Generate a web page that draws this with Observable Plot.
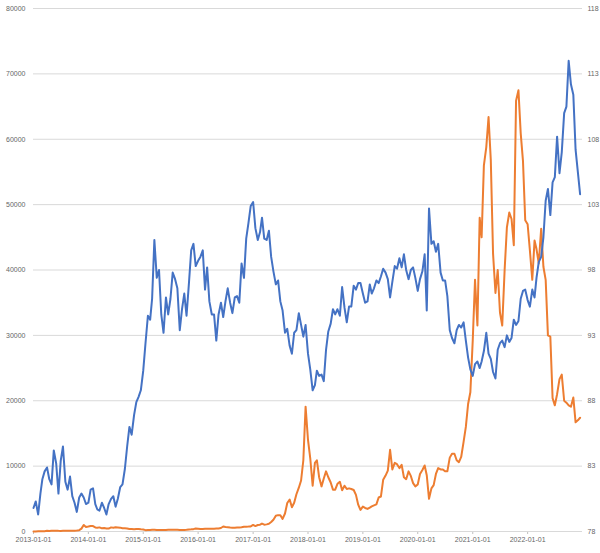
<!DOCTYPE html>
<html>
<head>
<meta charset="utf-8">
<script src="https://cdn.jsdelivr.net/npm/d3@7"></script>
<script src="https://cdn.jsdelivr.net/npm/@observablehq/plot@0.6"></script>
<style>
  html, body { margin: 0; padding: 0; background: #fff; }
  #chart svg { display: block; }
</style>
</head>
<body>
<div id="chart"></div>
<script>
// Sample dates: 1st and 16th of each month, Jan 2013 – Dec 2022
const startYear = 2013;
const yearsCount = 10;

// Left-axis series (orange), semi-monthly values
const btc = [
  // 2013
  13, 14, 20, 27, 34, 47, 104, 83, 116, 115, 129, 100, 88, 98, 105, 99, 127, 127, 126, 150, 206, 440, 1000, 700,
  // 2014
  770, 850, 830, 620, 560, 630, 480, 520, 450, 450, 630, 590, 640, 620, 590, 500, 480, 460, 380, 390, 330, 390, 380, 330,
  // 2015
  315, 210, 225, 235, 255, 285, 245, 225, 235, 237, 225, 250, 260, 280, 280, 260, 230, 230, 237, 262, 320, 330, 360, 455,
  // 2016
  430, 385, 375, 405, 430, 415, 415, 430, 450, 455, 535, 760, 675, 665, 610, 575, 575, 610, 615, 640, 730, 745, 750, 780,
  // 2017
  1000, 830, 990, 1040, 1220, 1050, 1090, 1180, 1450, 1800, 2400, 2500, 2500, 1930, 2750, 4350, 4900, 3700, 4400, 5700, 6700, 7800, 10900, 19100,
  // 2018
  14000, 11200, 7000, 10500, 10900, 8300, 6900, 8100, 9200, 8300, 7500, 6400, 6400, 7300, 7600, 6300, 7000, 6500, 6600, 6500, 6350, 5600, 4100, 3300,
  // 2019
  3800, 3600, 3450, 3650, 3850, 4000, 4150, 5200, 5350, 7900, 8550, 9300, 12500, 9500, 10500, 10300, 9700, 10200, 8300, 8000, 9200, 8500, 7400, 6900,
  // 2020
  7200, 8800, 9400, 10100, 8600, 5000, 6600, 7100, 8800, 9700, 9500, 9500, 9200, 9200, 11300, 11900, 11900, 10900, 10600, 11400, 13700, 16000, 19500, 21300,
  // 2021
  29300, 38500, 31500, 48000, 45000, 56000, 58800, 63400, 56800, 42500, 36500, 40000, 33500, 31500, 40000, 46500, 48800, 47800, 43800, 65900, 67500, 60900, 56700, 47600,
  // 2022
  47000, 43000, 38500, 44500, 43200, 41000, 46300, 40500, 38500, 30000, 29800, 20400, 19300, 21000, 23300, 24000, 20000, 19700, 19300, 19100, 20500, 16700, 17000, 17400
];

// Right-axis series (blue), semi-monthly values
const dxy = [
  // 2013
  79.8, 80.3, 79.3, 80.9, 82.0, 82.6, 82.9, 82.0, 81.6, 84.2, 83.2, 80.9, 83.4, 84.5, 81.8, 81.2, 82.2, 80.7, 80.2, 79.5, 80.6, 80.9, 80.6, 80.1,
  // 2014
  80.2, 81.2, 81.3, 80.1, 79.7, 79.6, 80.2, 79.8, 79.3, 80.1, 80.5, 80.7, 79.9, 80.5, 81.4, 81.6, 82.8, 84.5, 86.0, 85.4, 86.9, 87.9, 88.3, 88.8,
  // 2015
  90.3, 92.4, 94.5, 94.2, 95.8, 100.3, 97.4, 98.0, 94.6, 93.2, 95.9, 94.6, 95.8, 97.8, 97.3, 96.6, 93.4, 95.0, 96.2, 94.5, 97.0, 99.5, 100.0, 98.3,
  // 2016
  98.7, 99.0, 99.5, 96.5, 98.2, 95.6, 94.6, 94.6, 92.6, 94.6, 95.5, 94.4, 95.6, 96.6, 95.5, 94.7, 95.9, 96.0, 95.5, 98.5, 97.4, 100.4, 101.6, 102.9,
  // 2017
  103.2, 101.2, 100.3, 100.9, 102.0, 100.4, 100.3, 101.0, 99.0, 97.9, 96.9, 97.2, 95.6, 94.9, 93.2, 93.5, 92.2, 91.6, 93.2, 93.4, 94.7, 93.8, 92.9, 93.8,
  // 2018
  91.6, 90.4, 88.8, 89.2, 90.3, 89.9, 90.0, 89.5, 91.9, 93.3, 93.9, 95.0, 94.6, 95.0, 94.5, 96.7, 95.1, 94.0, 95.2, 95.2, 96.8, 96.5, 97.0, 97.0,
  // 2019
  96.2, 95.5, 95.6, 96.9, 96.2, 96.6, 97.2, 97.0, 97.5, 98.1, 97.8, 97.3, 95.9, 97.1, 98.3, 98.1, 98.9, 98.2, 99.2, 98.0, 97.3, 98.0, 98.2, 97.4,
  // 2020
  96.4, 97.3, 97.9, 99.2, 94.9, 102.7, 100.0, 100.2, 99.4, 100.0, 97.8, 97.2, 97.2, 96.0, 93.4, 92.8, 92.4, 93.4, 93.8, 93.6, 94.0, 92.6, 91.3, 90.4,
  // 2021
  89.9, 90.8, 91.0, 90.5, 91.0, 91.8, 93.2, 91.6, 91.2, 90.2, 89.7, 91.9, 92.4, 92.6, 92.1, 93.0, 92.5, 92.8, 94.2, 93.8, 94.1, 95.8, 96.4, 96.5,
  // 2022
  95.7, 95.2, 96.5, 95.9, 97.4, 98.6, 99.0, 100.5, 103.3, 104.2, 102.2, 104.7, 105.1, 108.2, 105.4, 107.0, 110.0, 110.5, 114.0, 112.2, 111.4, 107.2, 105.5, 103.8
];

// Tick labels
const leftTicks = [0, 10000, 20000, 30000, 40000, 50000, 60000, 70000, 80000];
const rightTicks = [78, 83, 88, 93, 98, 103, 108, 113, 118];

const dates = d3.range(yearsCount * 24).map(i =>
  new Date(Date.UTC(startYear + Math.floor(i / 24), Math.floor((i % 24) / 2), (i % 2) ? 16 : 1))
);
const btcData = btc.map((v, i) => ({date: dates[i], v}));
const dxyData = dxy.map((v, i) => ({date: dates[i], v}));

// map right-axis values onto the left scale (78..118 -> 0..80000)
const rMin = rightTicks[0], rMax = rightTicks[rightTicks.length - 1];
const lMax = leftTicks[leftTicks.length - 1];
const toLeft = v => (v - rMin) / (rMax - rMin) * lMax;

const xTicks = d3.utcYear.range(new Date(Date.UTC(2013, 0, 1)), new Date(Date.UTC(2023, 0, 1)));

const chart = Plot.plot({
  width: 600,
  height: 553,
  marginLeft: 33,
  marginRight: 18,
  marginTop: 8,
  marginBottom: 22,
  style: {fontSize: "7px", fontFamily: "'Liberation Sans', Arial, sans-serif", color: "#666666", background: "#fff"},
  x: {type: "utc", domain: [new Date(Date.UTC(2013, 0, 1)), new Date(Date.UTC(2023, 0, 1))]},
  y: {domain: [0, lMax]},
  marks: [
    Plot.gridY(leftTicks, {stroke: "#d9d9d9", strokeOpacity: 1, strokeWidth: 1}),
    Plot.axisY({ticks: leftTicks, anchor: "left", tickSize: 0, tickPadding: 8, tickFormat: d => String(d), label: null}),
    Plot.axisY({ticks: leftTicks, anchor: "right", tickSize: 0, tickPadding: 5, tickFormat: (d, i) => String(rightTicks[i]), label: null}),
    Plot.axisX({ticks: xTicks, tickSize: 3, tickPadding: 3, stroke: "#bfbfbf", tickFormat: d3.utcFormat("%Y-%m-%d"), label: null}),
    Plot.ruleY([0], {stroke: "#d9d9d9"}),
    Plot.line(btcData, {x: "date", y: "v", stroke: "#ED7D31", strokeWidth: 2}),
    Plot.line(dxyData, {x: "date", y: d => toLeft(d.v), stroke: "#4472C4", strokeWidth: 2})
  ]
});
document.getElementById("chart").appendChild(chart);
</script>
</body>
</html>
